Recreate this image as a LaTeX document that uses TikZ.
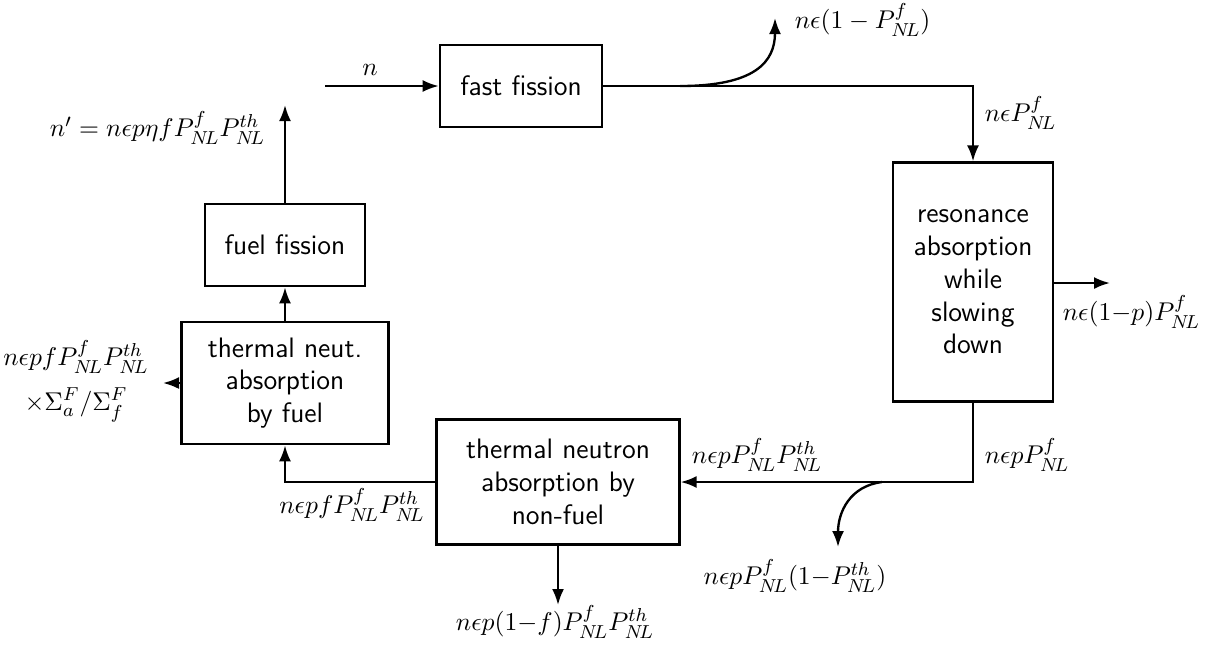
\documentclass[tikz,border=0pt]{standalone}
\usepackage{amssymb, amsmath}
\usepackage{tikz}
\usetikzlibrary{arrows,arrows.meta}

\begin{document}
\begin{tikzpicture}[x=0.015cm, y=-0.015cm, >={Latex[length=2.4mm,width=1.8mm]},
  blk/.style={draw, line width=1.1pt, align=center, font=\sffamily\large, inner sep=2pt},
  flow/.style={->, line width=1pt},
  lbl/.style={font=\fontsize{11}{13}\selectfont, inner sep=1pt}]
\useasboundingbox (0,0) rectangle (1227,644);
%
% blocks
\node[blk, minimum width=2.43cm, minimum height=1.23cm] (fast) at (521,86) {fast fission};
\node[blk, minimum width=2.4cm, minimum height=3.58cm] (reson) at (973,282)
  {resonance\\absorption\\while\\slowing\\down};
\node[blk, minimum width=3.64cm, minimum height=1.87cm] (nonfuel) at (558,482)
  {thermal neutron\\absorption by\\non-fuel};
\node[blk, minimum width=3.1cm, minimum height=1.83cm] (fuelabs) at (285,383)
  {thermal neut.\\absorption\\by fuel};
\node[blk, minimum width=2.4cm, minimum height=1.23cm] (fuelfis) at (285,245) {fuel fission};
%
% free ends
\coordinate (nin) at (325,86);
\coordinate (nout) at (285,105);
\coordinate (leakf) at (775,18);
\coordinate (brf) at (680,86);
\coordinate (resout) at (1110,283);
\coordinate (brth) at (882,482);
\coordinate (leakth) at (838,547);
\coordinate (nfout) at (558,605);
\coordinate (fout) at (163,383);
%
% connectors
\draw[flow] (nin) -- (fast.west);
\draw[flow] (fast.east) -| (reson.north);
\draw[flow] (brf) .. controls (755,86) and (775,62) .. (leakf);
\draw[flow] (reson.east |- resout) -- (resout);
\draw[flow] (reson.south) |- (nonfuel.east);
\draw[flow] (brth) .. controls (850,486) and (838,512) .. (leakth);
\draw[flow] (nonfuel.south) -- (nfout);
\draw[flow] (nonfuel.west) -| (fuelabs.south);
\draw[flow] (fuelabs.west) -- (fout);
\draw[flow] (fuelabs.north) -- (fuelfis.south);
\draw[flow] (fuelfis.north) -- (nout);
%
% labels
\node[lbl] (lin) at (370,70) {$n$};
\node[lbl, anchor=east] (lnp) at (268,128) {$n'=n\epsilon p\eta f P_{N\!L}^{f}P_{N\!L}^{th}$};
\node[lbl, anchor=west] (lleakf) at (792,20) {$n\epsilon(1-P_{N\!L}^{f})$};
\node[lbl, anchor=west] (lfast) at (982,113) {$n\epsilon P_{N\!L}^{f}$};
\node[lbl, anchor=west] (lres) at (1060,312) {$n\epsilon(1{-}p)P_{N\!L}^{f}$};
\node[lbl, anchor=west] (lreso) at (982,455) {$n\epsilon p P_{N\!L}^{f}$};
\node[lbl] (lnf) at (757,455) {$n\epsilon p P_{N\!L}^{f}P_{N\!L}^{th}$};
\node[lbl] (lleakth) at (795,576) {$n\epsilon p P_{N\!L}^{f}(1{-}P_{N\!L}^{th})$};
\node[lbl] (lnfout) at (555,622) {$n\epsilon p(1{-}f)P_{N\!L}^{f}P_{N\!L}^{th}$};
\node[lbl] (lfuel) at (352,505) {$n\epsilon p f P_{N\!L}^{f}P_{N\!L}^{th}$};
\node[lbl, align=center] (lfout) at (76,381)
  {$n\epsilon p f P_{N\!L}^{f}P_{N\!L}^{th}$\\[6pt]$\times\Sigma_a^F/\Sigma_f^F$};
\end{tikzpicture}
\end{document}
